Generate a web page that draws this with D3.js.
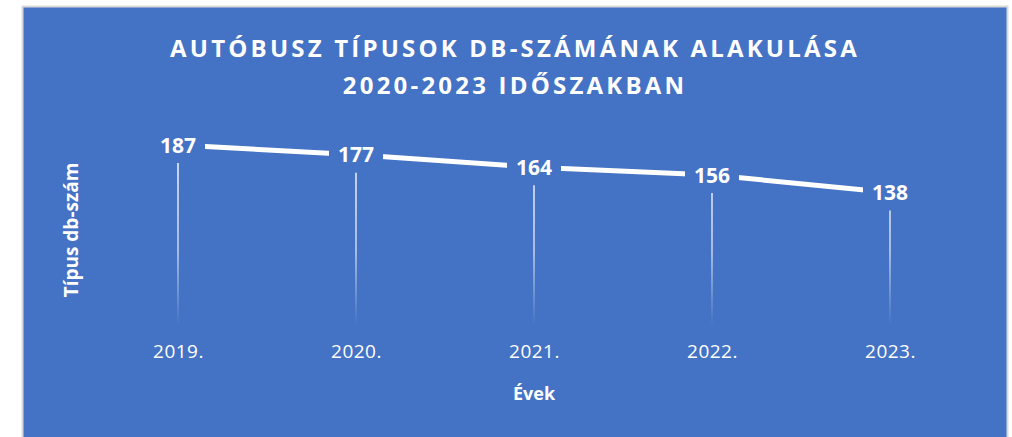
<!DOCTYPE html>
<html>
<head>
<meta charset="utf-8">
<script src="https://cdn.jsdelivr.net/npm/d3@7"></script>
<style>
  body { margin: 0; background: #fff; }
  text { font-family: "Open Sans", "Noto Sans", sans-serif; fill: #fff; }
</style>
</head>
<body>
<div id="chart"></div>
<script>
var years = ["2019.", "2020.", "2021.", "2022.", "2023."];
var counts = [187, 177, 164, 156, 138];
var titleLines = ["AUTÓBUSZ TÍPUSOK DB-SZÁMÁNAK ALAKULÁSA", "2020-2023 IDŐSZAKBAN"];

var width = 1012, height = 437,
    blue = "#4472C4";

var svg = d3.select("#chart").append("svg")
    .attr("width", width)
    .attr("height", height);

// panel
svg.append("rect")
    .attr("x", 22.5).attr("y", 6.5)
    .attr("width", 985).attr("height", 440)
    .style("fill", blue)
    .style("stroke", "#d9d9d9")
    .style("stroke-width", 2);

var defs = svg.append("defs");
var grad = defs.append("linearGradient")
    .attr("id", "dropFade")
    .attr("gradientUnits", "userSpaceOnUse")
    .attr("x1", 0).attr("x2", 0)
    .attr("y1", 160).attr("y2", 326);
grad.append("stop").attr("offset", "0%").style("stop-color", "#fff").style("stop-opacity", 0.95);
grad.append("stop").attr("offset", "55%").style("stop-color", "#fff").style("stop-opacity", 0.7);
grad.append("stop").attr("offset", "100%").style("stop-color", "#fff").style("stop-opacity", 0);

var x = d3.scalePoint()
    .domain(years)
    .range([178, 890]);

var y = d3.scaleLinear()
    .domain([0, 187])
    .range([326, 145]);

// title
svg.append("g").selectAll("text")
    .data(titleLines)
    .enter().append("text")
    .attr("x", 515)
    .attr("y", function (d, i) { return 57 + i * 37; })
    .attr("text-anchor", "middle")
    .style("font-size", "24px")
    .style("font-weight", "bold")
    .style("letter-spacing", "3.2px")
    .text(function (d) { return d; });

// drop lines
svg.append("g").selectAll("line")
    .data(counts)
    .enter().append("line")
    .attr("x1", function (d, i) { return x(years[i]); })
    .attr("x2", function (d, i) { return x(years[i]); })
    .attr("y1", function (d) { return y(d); })
    .attr("y2", y(0))
    .style("stroke", "url(#dropFade)")
    .style("stroke-width", 1.5);

// series line
var line = d3.line()
    .x(function (d, i) { return x(years[i]); })
    .y(function (d) { return y(d); });

svg.append("path")
    .datum(counts)
    .attr("d", line)
    .style("fill", "none")
    .style("stroke", "#fff")
    .style("stroke-width", 5);

// data labels with panel-coloured box
var lab = svg.append("g").selectAll("g")
    .data(counts)
    .enter().append("g")
    .attr("transform", function (d, i) { return "translate(" + x(years[i]) + "," + y(d) + ")"; });

lab.append("rect")
    .attr("x", -27).attr("y", -18)
    .attr("width", 54).attr("height", 36)
    .style("fill", blue);

lab.append("text")
    .attr("text-anchor", "middle")
    .attr("dy", "0.36em")
    .style("font-size", "21px")
    .style("font-weight", "bold")
    .text(function (d) { return d; });

// x axis tick labels
var xAxis = d3.axisBottom(x).tickSize(0).tickPadding(0);
var gx = svg.append("g")
    .attr("transform", "translate(0,344)")
    .call(xAxis);
gx.select(".domain").remove();
gx.selectAll("text")
    .style("font-size", "19px")
    .style("fill", "#fff")
    .style("letter-spacing", "0.5px")
    .style("font-family", "'Open Sans', sans-serif")
    .attr("dy", "0.71em");

// axis titles
svg.append("text")
    .attr("x", 534).attr("y", 400)
    .attr("text-anchor", "middle")
    .style("font-size", "18px")
    .style("font-weight", "bold")
    .text("Évek");

svg.append("text")
    .attr("transform", "translate(78,230) rotate(-90)")
    .attr("text-anchor", "middle")
    .style("font-size", "19px")
    .style("font-weight", "bold")
    .text("Típus db-szám");
</script>
</body>
</html>
